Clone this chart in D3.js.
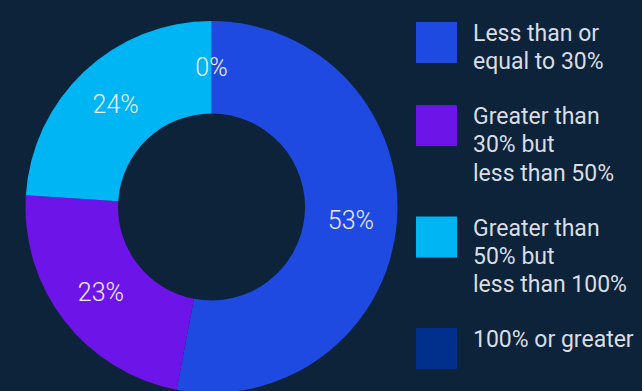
<!DOCTYPE html>
<html>
<head>
<meta charset="utf-8">
<script src="https://cdn.jsdelivr.net/npm/d3@7"></script>
<style>
  html, body { margin: 0; padding: 0; background: #0d233a; }
  svg { display: block; }
</style>
</head>
<body>
<svg id="chart" width="642" height="391"></svg>
<script>
// Share of items in each range
const categories = [
  "Less than or equal to 30%",
  "Greater than 30% but less than 50%",
  "Greater than 50% but less than 100%",
  "100% or greater"
];
const legendLines = [
  ["Less than or", "equal to 30%"],
  ["Greater than", "30% but", "less than 50%"],
  ["Greater than", "50% but", "less than 100%"],
  ["100% or greater"]
];
const values = [53, 23, 24, 0];
const colors = ["#1f4ae1", "#6d14e8", "#00b5f4", "#00308c"];

const svg = d3.select("#chart");
const W = 642, H = 391;

svg.append("rect").attr("width", W).attr("height", H).attr("fill", "#0d233a");

const cx = 211.5, cy = 207;
const outerR = 186, innerR = 93.5;

const pie = d3.pie().sort(null).value(d => d);
const arcs = pie(values);

const arc = d3.arc().innerRadius(innerR).outerRadius(outerR);
const labelArc = d3.arc().innerRadius(140).outerRadius(140);

const g = svg.append("g").attr("transform", `translate(${cx},${cy})`);

g.selectAll("path.slice")
  .data(arcs)
  .join("path")
  .attr("class", "slice")
  .attr("d", arc)
  .attr("fill", (d, i) => colors[i]);

g.selectAll("text.value")
  .data(arcs)
  .join("text")
  .attr("class", "value")
  .attr("transform", d => `translate(${labelArc.centroid(d)})`)
  .attr("text-anchor", "middle")
  .attr("dominant-baseline", "central")
  .attr("font-family", "Roboto, sans-serif")
  .attr("font-weight", 300)
  .attr("font-size", 25)
  .attr("fill", "#eceef4")
  .text(d => d3.format(".0f")(d.data) + "%");

// Legend
const legendX = 416, textX = 473;
const sw = 41, lineH = 28.3, gap = 26.5;
let y = 22;
const legend = svg.append("g");
categories.forEach((c, i) => {
  const item = legend.append("g").attr("transform", `translate(0,${y})`);
  item.append("rect")
    .attr("x", legendX).attr("y", 0)
    .attr("width", sw).attr("height", sw)
    .attr("fill", colors[i]);
  const t = item.append("text")
    .attr("font-family", "Roboto, sans-serif")
    .attr("font-size", 23)
    .attr("fill", "#d9dde4");
  legendLines[i].forEach((ln, j) => {
    t.append("tspan").attr("x", textX).attr("y", 19 + j * lineH).text(ln);
  });
  y += legendLines[i].length * lineH + gap;
});
</script>
</body>
</html>
